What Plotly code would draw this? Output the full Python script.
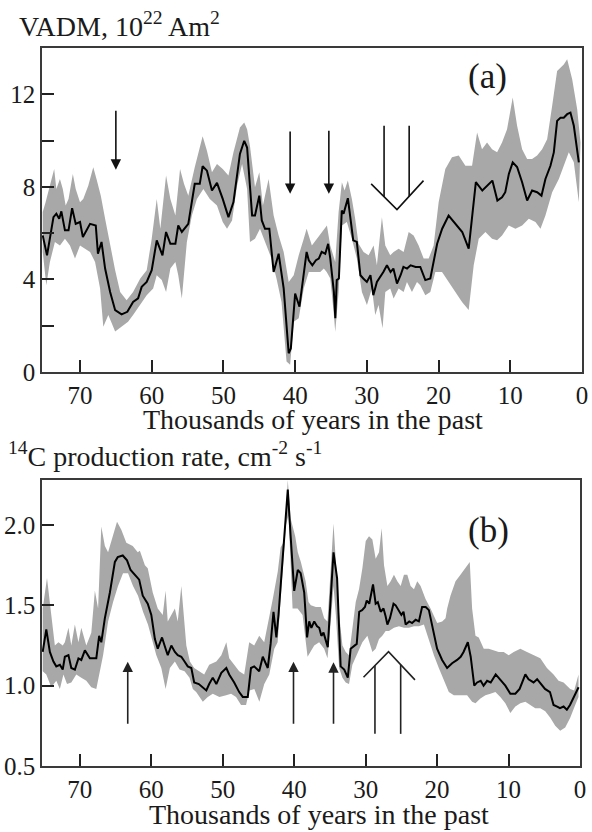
import plotly.graph_objects as go

# ---------------- Panel (a): VADM, 10^22 Am^2 ----------------
vadm_age = [75.2, 74.6, 73.7, 73.3, 72.9, 72.6, 72.1, 71.6, 71.1, 70.6,
            70.0, 69.6, 68.6, 67.8, 67.5, 67.0, 66.5, 65.8, 65.1, 64.2,
            63.4, 62.6, 61.9, 61.4, 60.7, 60.0, 59.3, 58.5, 58.0, 57.4,
            56.7, 56.3, 55.8, 54.9, 54.0, 53.3, 52.9, 52.3, 51.6, 50.9,
            50.1, 49.3, 48.6, 47.7, 47.1, 46.7, 46.0, 45.6, 45.0, 44.65,
            44.2, 43.6, 43.0, 42.3, 41.6, 40.9, 40.6, 40.0, 39.4, 38.4,
            38.1, 37.6, 37.1, 36.7, 36.3, 35.8, 35.4, 35.1, 34.6, 34.4,
            34.2, 33.9, 33.5, 33.25, 32.65, 32.3, 31.9, 31.4, 30.9, 30.5,
            30.0, 29.5, 29.1, 28.6, 28.1, 27.7, 27.2, 26.7, 26.3, 25.8,
            25.3, 24.9, 24.4, 23.9, 23.2, 22.55, 21.85, 21.15, 20.2, 19.5,
            18.6, 17.7, 16.7, 15.8, 15.3, 14.8, 13.9, 13.2, 12.5, 11.8,
            11.15, 10.7, 10.2, 9.66, 9.05, 8.35, 7.65, 6.96, 6.26, 5.65,
            5.1, 4.4, 3.93, 3.47, 3.0, 2.54, 2.07, 1.61, 1.14, 0.44]
vadm = [5.90, 5.04, 6.69, 6.84, 6.62, 6.94, 6.12, 6.12, 7.08, 6.40,
        6.48, 5.83, 6.40, 6.33, 5.11, 5.62, 4.47, 3.46, 2.67, 2.49,
        2.60, 3.03, 3.18, 3.68, 3.89, 4.40, 5.69, 5.04, 6.05, 5.54,
        5.54, 6.33, 6.05, 6.40, 8.13, 8.13, 8.89, 8.70, 7.84, 8.17,
        7.48, 6.69, 7.34, 9.42, 9.99, 9.70, 6.76, 6.76, 7.62, 6.55,
        6.19, 6.19, 4.32, 5.11, 3.61, 0.81, 1.02, 3.39, 2.82, 5.19,
        4.83, 4.61, 4.83, 4.90, 5.19, 5.11, 5.54, 4.90, 3.46, 2.32,
        3.97, 4.04, 6.98, 6.84, 7.51, 6.76, 5.69, 5.62, 4.18, 4.04,
        3.89, 4.18, 3.32, 3.89, 4.11, 4.32, 4.61, 4.32, 4.47, 3.82,
        4.18, 4.54, 4.47, 4.61, 4.54, 4.54, 3.97, 4.04, 5.54, 6.19,
        6.76, 6.41, 6.05, 5.33, 6.69, 8.20, 7.84, 8.06, 8.27, 7.41,
        7.55, 7.77, 8.56, 9.06, 8.86, 8.20, 7.41, 7.84, 7.77, 7.62,
        8.34, 8.91, 9.49, 10.85, 10.99, 10.99, 11.14, 11.21, 10.64, 9.06]

vadm_hi_age = [75.2, 74.8, 73.6, 73.3, 72.8, 72.4, 72.0, 71.6, 71.0, 70.6,
               70.0, 69.55, 68.85, 68.15, 67.7, 67.1, 66.5, 65.8, 65.1, 64.4,
               63.5, 62.6, 61.6, 60.7, 60.0, 59.3, 58.8, 58.0, 57.4, 56.7,
               56.05, 55.5, 54.9, 54.0, 52.9, 52.3, 51.6, 50.9, 50.1, 49.3,
               48.6, 47.7, 47.1, 46.7, 46.3, 45.6, 45.0, 44.5, 43.7, 43.0,
               42.3, 41.6, 40.9, 40.2, 39.5, 38.8, 38.4, 37.67, 36.97, 36.27,
               35.57, 35.11, 34.41, 33.94, 33.48, 33.11, 32.65, 32.09, 31.63, 31.16,
               30.46, 29.76, 29.06, 28.60, 27.90, 27.43, 26.74, 26.27, 25.57, 24.87,
               24.17, 23.48, 22.78, 22.08, 21.38, 20.69, 19.99, 19.06, 18.13, 17.19,
               16.26, 15.33, 14.63, 13.94, 13.24, 12.54, 11.84, 11.15, 10.45, 9.66,
               9.05, 8.35, 7.65, 6.96, 6.26, 5.56, 4.86, 4.16, 3.47, 2.54,
               2.07, 1.37, 0.67, 0.21]
vadm_hi = [6.91, 7.34, 8.77, 7.91, 8.34, 7.91, 7.19, 7.48, 8.56, 7.91,
           7.34, 7.48, 8.05, 8.85, 8.34, 7.62, 6.62, 5.47, 4.40, 3.46,
           3.10, 3.46, 4.04, 4.40, 5.76, 7.48, 6.19, 8.49, 7.48, 6.76,
           8.77, 8.13, 7.62, 8.85, 10.19, 9.56, 8.63, 8.99, 8.77, 8.49,
           9.49, 10.56, 10.78, 10.49, 9.77, 7.98, 8.63, 7.19, 8.34, 6.76,
           5.90, 5.19, 3.89, 4.18, 5.04, 5.76, 6.19, 5.47, 5.76, 6.05,
           6.33, 5.47, 4.75, 6.91, 8.20, 7.84, 8.27, 7.48, 6.62, 5.54,
           5.19, 5.04, 5.47, 4.61, 6.69, 5.47, 5.04, 5.19, 5.33, 5.19,
           6.05, 5.90, 5.47, 4.90, 4.90, 5.47, 7.34, 8.77, 9.28, 9.35,
           8.91, 8.91, 10.35, 9.63, 9.92, 9.63, 9.49, 9.92, 10.49, 11.86,
           10.64, 9.63, 9.20, 9.20, 9.35, 9.63, 10.06, 11.50, 13.01, 13.29,
           13.51, 12.65, 11.35, 9.92]

vadm_lo_age = [75.2, 74.7, 74.2, 73.5, 72.8, 72.1, 71.4, 70.7, 70.0, 69.3,
               68.6, 67.9, 67.2, 66.75, 66.05, 65.1, 64.2, 63.3, 62.6, 61.6,
               60.7, 59.8, 59.3, 58.6, 58.0, 57.4, 56.7, 56.3, 55.8, 55.1,
               54.4, 53.7, 52.8, 51.9, 50.9, 50.1, 49.5, 48.8, 48.1, 47.4,
               46.7, 46.3, 45.6, 44.9, 44.0, 43.3, 42.6, 41.9, 41.2, 40.7,
               40.2, 39.5, 38.8, 38.1, 37.2, 36.5, 36.0, 35.6, 35.1, 34.64,
               34.41, 33.94, 33.48, 32.79, 32.09, 31.39, 30.69, 29.99, 29.30, 28.83,
               28.37, 27.81, 27.43, 26.74, 26.27, 25.57, 24.87, 24.41, 23.71, 23.01,
               22.55, 21.85, 21.15, 20.45, 19.52, 18.59, 17.66, 16.73, 15.80, 15.10,
               14.40, 13.47, 12.54, 11.84, 11.15, 10.22, 9.28, 8.35, 7.42, 6.49,
               5.79, 5.10, 4.16, 3.23, 2.54, 1.84, 1.14, 0.44]
vadm_lo = [5.19, 3.75, 4.75, 5.62, 5.47, 5.76, 5.47, 4.90, 5.47, 5.33,
           5.19, 4.75, 3.61, 1.96, 2.46, 1.75, 1.96, 2.17, 2.46, 2.89,
           3.32, 3.61, 4.18, 3.97, 3.46, 4.47, 4.75, 4.18, 3.18, 5.62,
           6.76, 7.48, 7.91, 7.48, 7.19, 6.48, 6.19, 6.55, 8.05, 8.99,
           7.91, 5.62, 5.76, 6.19, 5.47, 4.90, 4.04, 3.03, 0.45, 0.31,
           2.17, 2.32, 3.61, 4.32, 4.32, 4.32, 4.47, 4.32, 4.04, 2.60,
           1.74, 3.46, 6.33, 6.48, 5.76, 4.90, 3.46, 2.89, 3.61, 2.46,
           2.89, 1.89, 3.46, 3.61, 3.18, 3.61, 3.46, 3.89, 3.46, 3.89,
           3.75, 3.32, 3.46, 4.32, 4.32, 3.89, 3.46, 3.03, 2.68, 4.61,
           5.76, 6.05, 5.76, 5.69, 5.90, 6.33, 6.19, 6.33, 6.62, 6.48,
           6.19, 6.76, 7.77, 8.34, 8.91, 9.49, 9.06, 7.34]

# ---------------- Panel (b): 14C production rate ----------------
c14_age = [75.2, 74.7, 74.2, 73.7, 73.3, 72.8, 72.4, 72.1, 71.6, 71.2,
           70.7, 70.2, 69.8, 69.3, 68.6, 68.2, 67.7, 67.3, 67.0, 66.5,
           65.8, 65.1, 64.7, 64.0, 63.4, 62.9, 62.3, 61.7, 61.2, 60.5,
           60.0, 59.5, 59.1, 58.5, 58.0, 57.7, 57.2, 56.7, 56.3, 55.8,
           55.35, 54.9, 54.4, 54.0, 53.35, 52.8, 52.3, 51.9, 51.4, 50.9,
           50.2, 49.5, 49.1, 48.4, 47.7, 47.2, 46.5, 46.05, 45.6, 44.9,
           44.4, 43.7, 43.3, 42.9, 42.5, 42.2, 41.6, 40.9, 40.5, 40.0,
           39.5, 39.1, 38.6, 38.2, 37.9, 37.6, 37.2, 36.8, 36.5, 36.2,
           35.9, 35.6, 35.3, 34.9, 34.5, 34.0, 33.7, 33.5, 33.0, 32.5,
           32.1, 31.6, 31.25, 30.9, 30.5, 30.1, 29.85, 29.5, 29.3, 28.97,
           28.6, 28.3, 27.9, 27.5, 27.2, 26.96, 26.6, 26.1, 25.8, 25.3,
           25.0, 24.7, 24.4, 23.9, 23.5, 23.0, 22.55, 22.1, 21.6, 21.15,
           20.7, 20.0, 19.3, 18.6, 17.9, 17.2, 16.7, 16.3, 15.7, 15.3,
           14.8, 14.4, 13.9, 13.5, 13.0, 12.5, 11.8, 11.4, 10.9, 10.45,
           9.75, 9.05, 8.45, 7.65, 7.2, 6.5, 6.0, 5.6, 4.9, 4.2,
           3.7, 3.2, 2.8, 2.3, 1.84, 1.4, 0.8, 0.2]
c14 = [1.21, 1.35, 1.21, 1.15, 1.12, 1.13, 1.10, 1.18, 1.19, 1.11,
       1.10, 1.17, 1.16, 1.22, 1.17, 1.17, 1.17, 1.31, 1.27, 1.42,
       1.58, 1.77, 1.80, 1.81, 1.78, 1.72, 1.69, 1.66, 1.56, 1.51,
       1.44, 1.29, 1.23, 1.30, 1.23, 1.19, 1.25, 1.21, 1.19, 1.18,
       1.15, 1.12, 1.11, 1.02, 1.01, 0.99, 0.97, 1.01, 1.05, 1.01,
       1.08, 1.11, 1.07, 1.02, 0.96, 0.93, 0.93, 1.11, 1.12, 1.09,
       1.18, 1.11, 1.26, 1.46, 1.30, 1.44, 1.82, 2.22, 1.93, 1.59,
       1.72, 1.70, 1.58, 1.30, 1.40, 1.36, 1.40, 1.37, 1.36, 1.31,
       1.33, 1.29, 1.24, 1.54, 1.83, 1.67, 1.27, 1.12, 1.10, 1.05,
       1.23, 1.25, 1.26, 1.46, 1.47, 1.49, 1.53, 1.51, 1.55, 1.63,
       1.51, 1.52, 1.46, 1.48, 1.43, 1.38, 1.42, 1.51, 1.50, 1.46,
       1.44, 1.46, 1.38, 1.40, 1.39, 1.41, 1.40, 1.49, 1.49, 1.47,
       1.37, 1.23, 1.16, 1.11, 1.14, 1.16, 1.18, 1.21, 1.27, 1.18,
       1.00, 1.02, 1.03, 1.00, 1.03, 1.02, 1.07, 1.05, 1.02, 1.00,
       0.95, 0.95, 0.98, 1.07, 1.04, 1.02, 1.04, 1.02, 0.98, 0.96,
       0.88, 0.87, 0.86, 0.87, 0.85, 0.88, 0.94, 0.99]

c14_hi_age = [75.2, 74.6, 74.0, 73.5, 73.0, 72.4, 72.1, 71.6, 71.2, 70.7,
              70.2, 69.8, 69.1, 68.4, 67.9, 67.45, 67.0, 66.5, 66.05, 65.35,
              64.8, 64.2, 63.5, 62.6, 61.9, 61.6, 60.9, 60.5, 59.8, 59.1,
              58.4, 58.0, 57.7, 57.2, 56.7, 56.3, 55.8, 55.1, 54.6, 54.0,
              53.3, 52.6, 51.9, 50.9, 50.2, 49.5, 49.1, 48.4, 47.7, 47.0,
              46.3, 45.6, 44.9, 44.2, 43.5, 43.0, 42.3, 41.9, 41.4, 40.9,
              40.5, 39.86, 39.5, 39.07, 38.4, 38.0, 37.67, 36.97, 36.27, 35.81,
              35.34, 34.88, 34.5, 34.17, 33.71, 33.25, 32.79, 32.33, 31.86, 31.39,
              30.93, 30.46, 29.99, 29.53, 29.06, 28.60, 28.13, 27.76, 27.43, 26.96,
              26.5, 26.04, 25.57, 25.1, 24.64, 24.17, 23.71, 23.24, 22.78, 22.31,
              21.62, 20.92, 19.99, 19.29, 18.82, 18.59, 18.13, 17.42, 16.73, 16.03,
              15.43, 15.1, 14.63, 14.17, 13.47, 12.77, 12.07, 11.38, 10.68, 9.98,
              9.28, 8.35, 7.42, 6.49, 5.56, 4.63, 3.70, 3.00, 2.30, 1.37,
              0.81, 0.21]
c14_hi = [1.48, 1.67, 1.44, 1.25, 1.27, 1.25, 1.27, 1.36, 1.25, 1.38,
          1.27, 1.36, 1.25, 1.33, 1.59, 1.48, 1.99, 1.87, 1.83, 1.94,
          2.02, 1.97, 1.89, 1.87, 1.83, 1.84, 1.75, 1.73, 1.58, 1.48,
          1.44, 1.59, 1.40, 1.44, 1.48, 1.40, 1.62, 1.25, 1.15, 1.11,
          1.09, 1.07, 1.13, 1.15, 1.19, 1.27, 1.17, 1.13, 1.09, 1.07,
          1.27, 1.25, 1.31, 1.27, 1.42, 1.54, 1.71, 1.86, 1.90, 2.28,
          2.04, 1.93, 1.83, 1.77, 1.65, 1.52, 1.50, 1.49, 1.49, 1.42,
          1.40, 1.71, 2.01, 1.77, 1.44, 1.25, 1.21, 1.19, 1.34, 1.52,
          1.60, 1.73, 1.90, 1.93, 1.91, 1.79, 1.83, 1.98, 1.75, 1.62,
          1.65, 1.69, 1.65, 1.62, 1.69, 1.69, 1.62, 1.60, 1.65, 1.62,
          1.54, 1.48, 1.39, 1.40, 1.42, 1.48, 1.56, 1.65, 1.69, 1.73,
          1.77, 1.48, 1.31, 1.30, 1.23, 1.23, 1.22, 1.21, 1.21, 1.19,
          1.21, 1.23, 1.21, 1.19, 1.17, 1.11, 1.07, 1.03, 1.02, 0.98,
          0.97, 1.07]

c14_lo_age = [75.2, 74.7, 74.0, 73.3, 72.8, 72.3, 71.8, 71.2, 70.5, 69.8,
              69.1, 68.4, 67.7, 67.2, 66.75, 66.05, 65.35, 64.66, 63.96, 63.26,
              62.56, 61.86, 61.16, 60.47, 59.77, 59.3, 58.6, 58.0, 57.4, 56.7,
              56.05, 55.35, 54.65, 54.19, 53.72, 52.79, 52.1, 51.4, 50.47, 49.53,
              48.84, 48.14, 47.44, 46.74, 46.28, 45.58, 44.88, 44.19, 43.49, 42.79,
              42.32, 41.86, 41.16, 40.79, 40.23, 39.53, 38.83, 38.13, 37.90, 37.20,
              36.51, 35.81, 35.34, 34.88, 34.50, 34.17, 33.71, 33.25, 32.79, 32.33,
              31.86, 31.16, 30.46, 29.76, 29.06, 28.60, 28.13, 27.67, 27.20, 26.74,
              26.04, 25.34, 24.64, 23.94, 23.24, 22.55, 21.85, 21.15, 20.45, 19.76,
              19.06, 18.36, 17.66, 16.73, 15.80, 15.10, 14.63, 13.94, 13.24, 12.54,
              11.84, 11.15, 10.45, 9.75, 9.05, 8.35, 7.65, 6.96, 6.26, 5.56,
              4.86, 4.16, 3.47, 2.77, 2.07, 1.37, 0.67, 0.21]
c14_lo = [1.09, 1.07, 0.99, 1.03, 0.98, 1.07, 1.01, 1.02, 1.07, 1.05,
          1.03, 0.99, 0.98, 1.09, 1.19, 1.40, 1.52, 1.62, 1.70, 1.70,
          1.62, 1.56, 1.46, 1.38, 1.27, 1.19, 1.11, 0.98, 1.11, 1.15,
          1.10, 1.09, 1.05, 0.98, 0.96, 0.90, 0.93, 0.95, 0.93, 0.94,
          0.95, 0.93, 0.88, 0.88, 0.97, 0.98, 0.90, 1.01, 1.07, 1.23,
          1.27, 1.58, 2.00, 2.06, 1.48, 1.48, 1.44, 1.18, 1.19, 1.25,
          1.27, 1.23, 1.17, 1.40, 1.62, 1.44, 1.11, 1.05, 1.02, 1.01,
          1.13, 1.20, 1.27, 1.31, 1.21, 1.23, 1.29, 1.31, 1.34, 1.34,
          1.36, 1.37, 1.36, 1.36, 1.37, 1.37, 1.38, 1.29, 1.19, 1.11,
          1.03, 0.96, 0.94, 0.94, 0.94, 0.90, 0.89, 0.92, 0.94, 0.95,
          0.96, 0.93, 0.89, 0.83, 0.87, 0.89, 0.90, 0.88, 0.86, 0.86,
          0.84, 0.80, 0.75, 0.72, 0.74, 0.80, 0.88, 0.93]

# ---------------- Event markers ----------------
# panel (a): downward arrows (age, tail value, tip value)
a_arrow_age = [65.0, 40.7, 35.3]
a_arrow_tail = [11.35, 10.46, 10.49]
a_arrow_tip = [8.74, 7.70, 7.70]
# panel (a): open double arrow
a_v_shaft_age = [27.6, 24.1]
a_v_shaft_top = 10.64
a_v_shaft_bottom = [7.57, 7.59]
a_v_age = [29.4, 25.8, 22.1]
a_v_val = [8.13, 7.02, 8.27]
# panel (b): upward arrows
b_arrow_age = [63.3, 40.1, 34.5]
b_arrow_tail = [0.753, 0.753, 0.753]
b_arrow_tip = [1.149, 1.149, 1.145]
# panel (b): open double arrow
b_v_shaft_age = [28.7, 25.1]
b_v_shaft_bottom = 0.70
b_v_shaft_top = [1.125, 1.13]
b_v_age = [30.3, 26.8, 23.1]
b_v_val = [1.052, 1.211, 1.036]

x_ticks = [70, 60, 50, 40, 30, 20, 10, 0]
a_yticks = [0, 2, 4, 6, 8, 10, 12]
a_ytext = ["0", "", "4", "", "8", "", "12"]
b_yticks = [0.5, 1.0, 1.5, 2.0]
b_ytext = ["0.5", "1.0", "1.5", "2.0"]

# ---------------- Figure ----------------
W, H = 592, 832
ML, MR, MT, MB = 42, 10, 48, 66
PW, PH = W - ML - MR, H - MT - MB


def px(xp):
    return (xp - ML) / PW


def py(yp):
    return (H - MB - yp) / PH


FONT = "Liberation Serif, Times New Roman, serif"
BAND = "#a8a8a8"

fig = go.Figure()

# bands
fig.add_trace(go.Scatter(x=vadm_hi_age + vadm_lo_age[::-1], y=vadm_hi + vadm_lo[::-1],
                         fill="toself", fillcolor=BAND, line=dict(width=0),
                         mode="lines", hoverinfo="skip", xaxis="x", yaxis="y"))
fig.add_trace(go.Scatter(x=vadm_age, y=vadm, mode="lines",
                         line=dict(color="#000000", width=2), xaxis="x", yaxis="y"))
fig.add_trace(go.Scatter(x=c14_hi_age + c14_lo_age[::-1], y=c14_hi + c14_lo[::-1],
                         fill="toself", fillcolor=BAND, line=dict(width=0),
                         mode="lines", hoverinfo="skip", xaxis="x2", yaxis="y2"))
fig.add_trace(go.Scatter(x=c14_age, y=c14, mode="lines",
                         line=dict(color="#000000", width=2), xaxis="x2", yaxis="y2"))

# open V markers
fig.add_trace(go.Scatter(x=a_v_age, y=a_v_val, mode="lines",
                         line=dict(color="#111111", width=1.6), xaxis="x", yaxis="y"))
for ag, bt in zip(a_v_shaft_age, a_v_shaft_bottom):
    fig.add_trace(go.Scatter(x=[ag, ag], y=[a_v_shaft_top, bt], mode="lines",
                             line=dict(color="#111111", width=1.6), xaxis="x", yaxis="y"))
fig.add_trace(go.Scatter(x=b_v_age, y=b_v_val, mode="lines",
                         line=dict(color="#222222", width=1.6), xaxis="x2", yaxis="y2"))
for ag, tp in zip(b_v_shaft_age, b_v_shaft_top):
    fig.add_trace(go.Scatter(x=[ag, ag], y=[b_v_shaft_bottom, tp], mode="lines",
                             line=dict(color="#222222", width=1.6), xaxis="x2", yaxis="y2"))

annotations = []
for ag, tl, tp in zip(a_arrow_age, a_arrow_tail, a_arrow_tip):
    annotations.append(dict(x=ag, y=tp, ax=ag, ay=tl, xref="x", yref="y",
                            axref="x", ayref="y", text="", showarrow=True,
                            arrowhead=2, arrowsize=1.3, arrowwidth=1.6,
                            arrowcolor="#111111"))
for ag, tl, tp in zip(b_arrow_age, b_arrow_tail, b_arrow_tip):
    annotations.append(dict(x=ag, y=tp, ax=ag, ay=tl, xref="x2", yref="y2",
                            axref="x2", ayref="y2", text="", showarrow=True,
                            arrowhead=2, arrowsize=1.3, arrowwidth=1.6,
                            arrowcolor="#222222"))

txt = dict(family=FONT, size=28, color="#1a1a1a")
annotations += [
    dict(text="VADM, 10<sup>22</sup> Am<sup>2</sup>", xref="paper", yref="paper",
         x=px(17), y=py(24), xanchor="left", yanchor="middle", showarrow=False, font=txt),
    dict(text="<sup>14</sup>C production rate, cm<sup>-2</sup> s<sup>-1</sup>",
         xref="paper", yref="paper", x=px(6), y=py(454), xanchor="left",
         yanchor="middle", showarrow=False, font=txt),
    dict(text="Thousands of years in the past", xref="paper", yref="paper",
         x=px(313), y=py(420), xanchor="center", yanchor="middle", showarrow=False,
         font=txt),
    dict(text="Thousands of years in the past", xref="paper", yref="paper",
         x=px(319), y=py(814), xanchor="center", yanchor="middle", showarrow=False,
         font=txt),
    dict(text="(a)", xref="paper", yref="paper", x=px(487), y=py(77),
         xanchor="center", yanchor="middle", showarrow=False,
         font=dict(family=FONT, size=35, color="#1a1a1a")),
    dict(text="(b)", xref="paper", yref="paper", x=px(488), y=py(530),
         xanchor="center", yanchor="middle", showarrow=False,
         font=dict(family=FONT, size=35, color="#1a1a1a")),
]

axis_common = dict(showgrid=False, zeroline=False, showline=True, mirror=True,
                   linecolor="#3a3a3a", linewidth=1.5, ticks="inside", ticklen=12,
                   tickwidth=1.5, tickcolor="#222222", automargin=False,
                   tickfont=dict(family=FONT, size=25, color="#1a1a1a"))

fig.update_layout(
    width=W, height=H, margin=dict(l=ML, r=MR, t=MT, b=MB, autoexpand=False),
    paper_bgcolor="white", plot_bgcolor="white", showlegend=False,
    xaxis=dict(domain=[0, 1], range=[75.3, 0], tickvals=x_ticks, anchor="y",
               **axis_common),
    yaxis=dict(domain=[py(372), 1], range=[0, 14], tickvals=a_yticks,
               ticktext=a_ytext, anchor="x", **axis_common),
    xaxis2=dict(domain=[0, px(580)], range=[75.3, 0], tickvals=x_ticks, anchor="y2",
                **axis_common),
    yaxis2=dict(domain=[0, py(480)], range=[0.5, 2.28], tickvals=b_yticks,
                ticktext=b_ytext, anchor="x2", **axis_common),
    annotations=annotations,
)

# remove the browser's default 8 px page margin so the figure fills the window
fig.write_html("out.html", config={"displayModeBar": False},
               post_script="document.body.style.margin='0';"
                           "document.body.style.overflow='hidden';")
